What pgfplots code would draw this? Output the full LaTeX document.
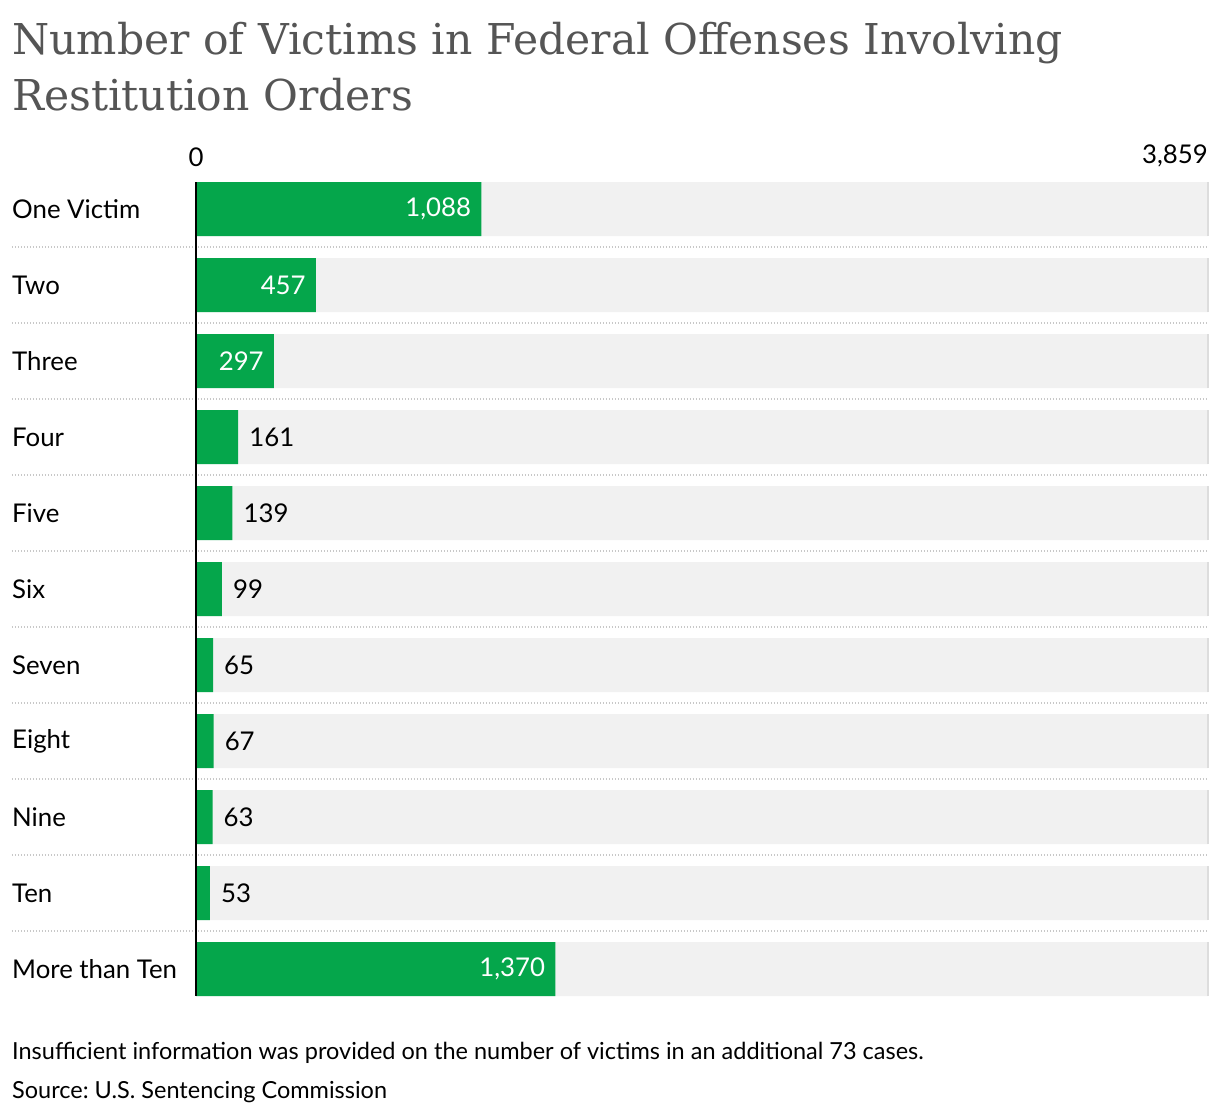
\documentclass[border=0pt]{standalone}
\usepackage{fontspec}
\setmainfont{Lato}
\newfontfamily\titlefont{DejaVu Serif}
\usepackage{pgfplots}
\pgfplotsset{compat=1.18}
\definecolor{bargreen}{HTML}{05A64B}
\definecolor{bggrey}{HTML}{F1F1F1}
\definecolor{titlegrey}{HTML}{555555}
\definecolor{dotgrey}{HTML}{C8C8C8}
\definecolor{edgegrey}{HTML}{DDDDDD}
\begin{document}
\frenchspacing
\begin{tikzpicture}
\useasboundingbox (0,0) rectangle (1220pt,-1116pt);
\node[anchor=base west, inner sep=0pt, text=titlegrey, font=\titlefont\fontsize{42.5pt}{50pt}\selectfont] at (12pt,-55pt) {Number of Victims in Federal Offenses Involving};
\node[anchor=base west, inner sep=0pt, text=titlegrey, font=\titlefont\fontsize{42.5pt}{50pt}\selectfont] at (12pt,-110pt) {Restitution Orders};
\begin{axis}[
  at={(196pt,-171pt)}, anchor=north west,
  scale only axis, width=1012pt, height=836pt,
  xmin=0, xmax=3859, ymin=-0.5, ymax=10.5, y dir=reverse,
  axis line style={draw=none}, major tick length=0pt,
  clip=false,
  /pgf/number format/.cd, 1000 sep={,}, assume math mode=true, /pgfplots/.cd,
  tick label style={font=\fontsize{25.8pt}{30pt}\selectfont, inner sep=0pt},
  xticklabel pos=upper,
  xtick={0},
  extra x ticks={3859},
  extra x tick style={xticklabel style={anchor=south east}},
  xticklabel style={yshift=4pt},
  ytick={0,...,10},
  yticklabels={One Victim,Two,Three,Four,Five,Six,Seven,Eight,Nine,Ten,More than Ten},
  yticklabel style={anchor=west, xshift=-184pt},
  nodes near coords style={font=\fontsize{25.8pt}{30pt}\selectfont, inner sep=0pt},
]
\addplot[xbar, bar width=54pt, bar shift=0pt, fill=bggrey, draw=none]
  coordinates {(3859,0) (3859,1) (3859,2) (3859,3) (3859,4) (3859,5) (3859,6) (3859,7) (3859,8) (3859,9) (3859,10)};
\addplot[xbar, bar width=54pt, bar shift=0pt, fill=bargreen, draw=none,
  nodes near coords={\pgfmathprintnumber[assume math mode=true,1000 sep={,}]{\pgfplotspointmeta}},
  nodes near coords style={anchor=east, text=white, xshift=-10pt}]
  coordinates {(1088,0) (457,1) (297,2) (1370,10)};
\addplot[xbar, bar width=54pt, bar shift=0pt, fill=bargreen, draw=none,
  nodes near coords={\pgfmathprintnumber[assume math mode=true,1000 sep={,}]{\pgfplotspointmeta}},
  nodes near coords style={anchor=west, text=black, xshift=11pt}]
  coordinates {(161,3) (139,4) (99,5) (65,6) (67,7) (63,8) (53,9)};
\pgfplotsinvokeforeach{0.5,1.5,...,9.5}{
  \draw[dotgrey, line width=1.5pt, dash pattern=on 1.5pt off 1.5pt] (axis cs:-702,#1) -- (axis cs:3859,#1);
}
\pgfplotsinvokeforeach{0,...,10}{
  \draw[edgegrey, line width=1.5pt] (axis cs:3859,#1-0.355) -- (axis cs:3859,#1+0.355);
}
\draw[black, line width=2pt] (axis cs:0,-0.355) -- (axis cs:0,10.355);
\end{axis}
\node[anchor=base west, inner sep=0pt, font=\fontsize{23.5pt}{28pt}\selectfont] at (12pt,-1059pt) {Insufficient information was provided on the number of victims in an additional 73 cases.};
\node[anchor=base west, inner sep=0pt, font=\fontsize{23.5pt}{28pt}\selectfont] at (12pt,-1098pt) {Source: U.S. Sentencing Commission};
\end{tikzpicture}
\end{document}
